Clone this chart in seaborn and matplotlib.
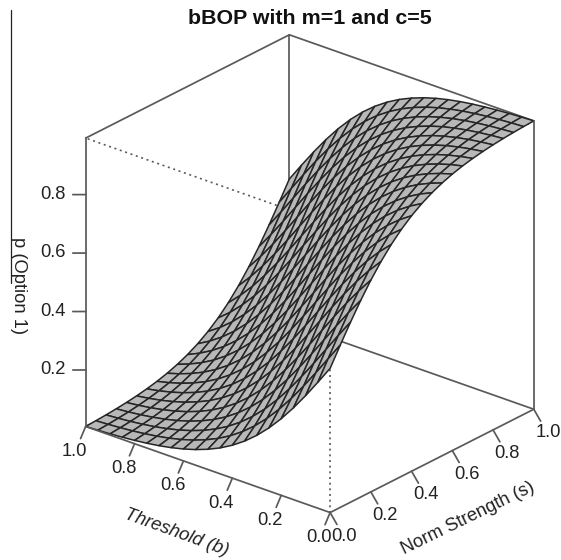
import numpy as np
import matplotlib
matplotlib.use("Agg")
import matplotlib.pyplot as plt
from matplotlib.lines import Line2D
from mpl_toolkits.mplot3d import proj3d
import seaborn as sns

TITLE = "bBOP with m=1 and c=5"
S_GRID = [round(i * 0.05, 2) for i in range(21)]
B_GRID = [round(i * 0.05, 2) for i in range(21)]
# p read along the surface, as a function of grid steps of (s - b), from -1.00 to 1.00
P_LOW = [.0067, .0086, .0110, .0141, .0180, .0230, .0293, .0373, .0474, .0601,
         .0759, .0953, .1192, .1480, .1824, .2227, .2689, .3208, .3775, .4378]
P_MID = [.5]
P_HIGH = [.5622, .6225, .6792, .7311, .7773, .8176, .8520, .8808, .9047, .9241,
          .9399, .9526, .9627, .9707, .9770, .9820, .9859, .9890, .9914, .9933]
TICKS = [0.0, 0.2, 0.4, 0.6, 0.8, 1.0]
P_TICKS = [0.2, 0.4, 0.6, 0.8]
P_MIN, P_MAX = 0.0067, 0.9933

sns.set_theme(style="white")
plt.rcParams["font.family"] = ["Liberation Sans", "DejaVu Sans"]

W, H = 561, 560
fig = plt.figure(figsize=(W / 100, H / 100), dpi=100, facecolor="white")
ax = fig.add_axes([35 / W, 11.6 / H, 525.9 / W, 535 / H], projection="3d")
ax.set_proj_type("ortho")
ax.view_init(elev=25, azim=219.8)
ax.set_box_aspect((1, 1, 1))
ax.set_xlim(0, 1, view_margin=0)
ax.set_ylim(0, 1, view_margin=0)
ax.set_zlim(P_MIN, P_MAX, view_margin=0)
ax.set_axis_off()
ax.patch.set_alpha(0)
ax.computed_zorder = False

# keep the 3D box where a 535 px square axes would put it
ax.set_position([35 / W, 11.6 / H, 535 / W, 535 / H])
ax.apply_aspect()

profile = P_LOW + P_MID + P_HIGH
n = len(S_GRID) - 1
S, B = np.meshgrid(S_GRID, B_GRID)
P = np.array([[profile[i - j + n] for i in range(n + 1)] for j in range(n + 1)])

EDGE = "#5a5a5a"
TXT = "#222222"
span = P_MAX - P_MIN


def seg(a, b, z=3, ls="-", lw=1.25, c=EDGE):
    ax.plot([a[0], b[0]], [a[1], b[1]], [a[2], b[2]], color=c, lw=lw, ls=ls, zorder=z,
            solid_capstyle="round")


def label(s, b, p, text, rotation=0, **extra):
    """Place a label at a data position of the box, through the axes' own projection."""
    x2, y2, _ = proj3d.proj_transform(s, b, p, ax.get_proj())
    fx, fy = fig.transFigure.inverted().transform(ax.transData.transform((x2, y2)))
    fig.text(fx, fy, text, color=TXT, fontsize=FS, ha="center", va="center",
             rotation=rotation, rotation_mode="anchor", **extra)


lo, hi = P_MIN, P_MAX
# hidden / back edges, under the surface
seg((0, 1, lo), (1, 1, lo), 1)
seg((1, 1, lo), (1, 0, lo), 1)
seg((1, 1, lo), (1, 1, hi), 1)
seg((0, 1, hi), (1, 1, hi), 1)
seg((1, 1, hi), (1, 0, hi), 1)
for a, b in [((0, 0, lo), (0, 0, hi)), ((0, 0, hi), (0, 1, hi)), ((0, 0, hi), (1, 0, hi))]:
    seg(a, b, 1, ls=(0, (1.2, 2.2)), lw=1.2)

ax.plot_surface(S, B, P, rcount=n + 1, ccount=n + 1, color="#b8b8b8", edgecolor="#262626",
                linewidth=1.1, shade=False, antialiased=True, zorder=2)

# front edges
seg((0, 0, lo), (0, 1, lo), 3)
seg((0, 0, lo), (1, 0, lo), 3)
seg((0, 1, lo), (0, 1, hi), 3)
seg((1, 0, lo), (1, 0, hi), 3)

FS = 13.2
for t in TICKS:
    seg((0, t, lo), (-0.025, t, lo - 0.033 * span), 3)
    label(-0.054, t, lo - 0.067 * span, f"{t:.1f}")
    seg((t, 0, lo), (t, -0.028, lo - 0.033 * span), 3)
    label(t, -0.058, lo - 0.065 * span, f"{t:.1f}")
for t in P_TICKS:
    seg((0, 1, t), (-0.026, 1.031, t), 3)
    label(-0.066, 1.08, t, f"{t:.1f}")

label(-0.157, 0.5, lo - 0.163 * span, "Threshold (b)", rotation=-20, style="italic")
label(0.5, -0.147, lo - 0.154 * span, "Norm Strength (s)", rotation=26)
label(-0.135, 1.161, 0.49, "p (Option 1)", rotation=-90)

fig.text(310 / W, 1 - 18 / H, TITLE, fontsize=15.4, fontweight="bold", color="#111111",
         ha="center", va="center")
fig.add_artist(Line2D([11 / W, 11 / W], [1 - 10 / H, 1 - 283 / H], color="#222222", lw=0.9))

fig.savefig("out.png", dpi=100, facecolor="white")
